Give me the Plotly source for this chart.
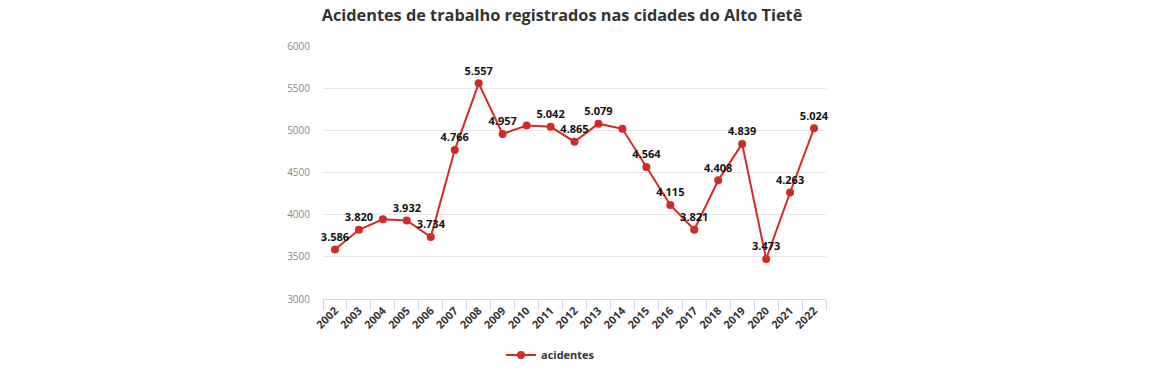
import plotly.graph_objects as go

years = [str(y) for y in range(2002, 2023)]
acidentes = [3586, 3820, 3945, 3932, 3734, 4766, 5557, 4957, 5058, 5042, 4865,
             5079, 5018, 4564, 4115, 3821, 4408, 4839, 3473, 4263, 5024]
hidden_labels = ["2004", "2010", "2014"]

labels = ["" if y in hidden_labels else f"{v:,}".replace(",", ".")
          for y, v in zip(years, acidentes)]

red = "#d12b26"
fig = go.Figure()
fig.add_trace(go.Scatter(
    x=years, y=acidentes, mode="lines+markers+text", name="acidentes",
    line=dict(color=red, width=2), marker=dict(color=red, size=8),
    text=labels, textposition="top center",
    textfont=dict(family="Open Sans", size=11, color="#111"),
    texttemplate="<b>%{text}</b>", cliponaxis=False,
))

fig.update_layout(
    width=1170, height=374,
    margin=dict(l=323, r=344, t=46, b=75, autoexpand=False),
    paper_bgcolor="white", plot_bgcolor="white",
    font=dict(family="Open Sans", color="#333"),
    title=dict(text="<b>Acidentes de trabalho registrados nas cidades do Alto Tietê</b>",
               x=562 / 1170, xanchor="center", y=1 - 15 / 374, yanchor="middle",
               font=dict(size=16.3, color="#333", family="Open Sans")),
    showlegend=True,
    legend=dict(orientation="h", xref="container", yref="container",
                x=501 / 1170, xanchor="left", y=1 - 355 / 374, yanchor="middle",
                font=dict(size=11, color="#333", family="Open Sans", weight="bold")),
)
fig.update_yaxes(range=[3000, 6000], dtick=500, showgrid=True, gridcolor="#e6e6e6",
                 zeroline=False, showline=False, ticks="", automargin=False,
                 tickfont=dict(size=10, color="#888"), ticklabelstandoff=12)
fig.update_xaxes(range=[-0.5, 20.5], automargin=False,
                 showgrid=False, showline=True, linecolor="#ccd6eb", ticks="outside",
                 tickcolor="#ccd6eb", ticklen=10, tickson="boundaries",
                 tickangle=-45, tickfont=dict(size=11, color="#333", family="Open Sans", weight="bold"))

fig.write_html("out.html", config={"displayModeBar": False},
               post_script="document.body.style.margin='0';")
